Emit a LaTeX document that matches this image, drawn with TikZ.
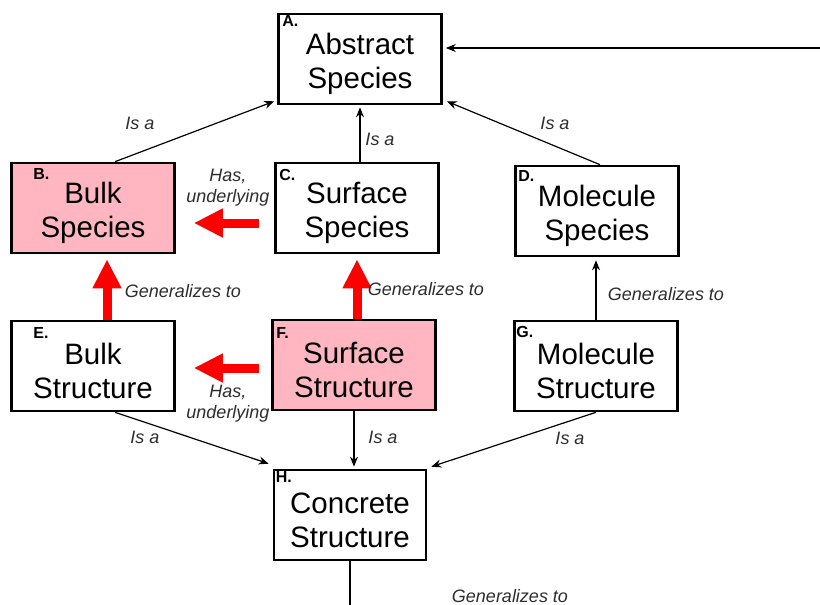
\documentclass[tikz,border=0pt]{standalone}
\usepackage{fontspec}
\setmainfont{Liberation Sans}
\usetikzlibrary{arrows.meta,positioning}
\definecolor{boxpink}{RGB}{255,182,193}
\definecolor{redarr}{RGB}{255,0,0}
\definecolor{relgray}{RGB}{45,45,45}
\newcommand\boxlift{\rule{0pt}{31pt}}

\begin{document}
\begin{tikzpicture}[x=1pt,y=-1pt,
 box/.style={draw=black,line width=2.6pt,align=center,minimum width=163pt,minimum height=90pt,inner sep=0pt,font=\fontsize{29.5}{34}\selectfont},
 tag/.style={font=\fontsize{16}{17}\selectfont\bfseries,inner sep=0pt,anchor=north west},
 rel/.style={font=\fontsize{18}{21}\selectfont\itshape,text=relgray,align=center,inner sep=0pt},
 isa/.style={-{Stealth[length=10pt,width=8pt]},line width=1.2pt},
 redarrow/.style={-{Triangle[length=29pt,width=27pt]},draw=redarr,line width=9pt}]
\useasboundingbox (0,0) rectangle (820,605);
\node[box] (A) at (360,59) {\boxlift Abstract\\Species};
\node[box,fill=boxpink] (B) at (93,208) {\boxlift Bulk\\Species};
\node[box] (C) at (357,208) {\boxlift Surface\\Species};
\node[box] (D) at (597,211) {\boxlift Molecule\\Species};
\node[box] (E) at (93,366) {\boxlift Bulk\\Structure};
\node[box,fill=boxpink] (F) at (354,365) {\boxlift Surface\\Structure};
\node[box] (G) at (596,366) {\boxlift Molecule\\Structure};
\node[box,minimum width=152pt] (H) at (350,515) {\boxlift Concrete\\Structure};
\node[tag] at ([shift={(5pt,-3pt)}]A.north west) {A.};
\node[tag] at ([shift={(23pt,-7pt)}]B.north west) {B.};
\node[tag] at ([shift={(5pt,-7pt)}]C.north west) {C.};
\node[tag] at ([shift={(4pt,-6pt)}]D.north west) {D.};
\node[tag] at ([shift={(23pt,-8pt)}]E.north west) {E.};
\node[tag] at ([shift={(5pt,-9pt)}]F.north west) {F.};
\node[tag] at ([shift={(3pt,-6pt)}]G.north west) {G.};
\node[tag] at ([shift={(3pt,-3pt)}]H.north west) {H.};
\coordinate (rim) at (820,48);
\coordinate (foot) at (350,605);
\draw[isa,shorten >=3pt] (rim) -- (rim -| A.east);
\draw[isa] ([xshift=22pt]B.north) -- ([xshift=-3pt,yshift=4pt]A.south west);
\draw[isa,shorten >=2pt] (A.south |- C.north) -- (A.south);
\draw[isa] ([xshift=3pt]D.north) -- ([xshift=4pt,yshift=4pt]A.south east);
\draw[isa,shorten >=3pt] (G.north) -- (G.north |- D.south);
\draw[isa] ([xshift=22pt]E.south) -- ([xshift=-4pt,yshift=5pt]H.north west);
\draw[isa,shorten >=2pt] (F.south) -- (F.south |- H.north);
\draw[isa] (G.south) -- ([xshift=4pt,yshift=2pt]H.north east);
\draw[line width=1.2pt] (H.south) -- (H.south |- foot);
\draw[redarrow,shorten <=15pt,shorten >=18pt] ([yshift=-15pt]C.west) -- ([yshift=-15pt]B.east);
\draw[redarrow,shorten <=12pt,shorten >=18pt] ([yshift=-3pt]F.west) -- ([yshift=-2pt]E.east);
\draw[redarrow,shorten >=5pt] ([xshift=14pt]E.north) -- ([xshift=14pt]B.south);
\draw[redarrow,shorten >=5pt] ([xshift=3pt]F.north) -- (C.south);
\node[rel] at (140,123) {Is a};
\node[rel] at (380,139) {Is a};
\node[rel] at (555,123) {Is a};
\node[rel] at (145,437) {Is a};
\node[rel] at (383,437) {Is a};
\node[rel] at (570,438) {Is a};
\node[rel] at (228,188) {Has,\\underlying};
\node[rel] at (228,404) {Has,\\underlying};
\node[rel] at (183,291) {Generalizes to};
\node[rel] at (426,289) {Generalizes to};
\node[rel] at (666,294) {Generalizes to};
\node[rel] at (510,596) {Generalizes to};
\end{tikzpicture}
\end{document}
